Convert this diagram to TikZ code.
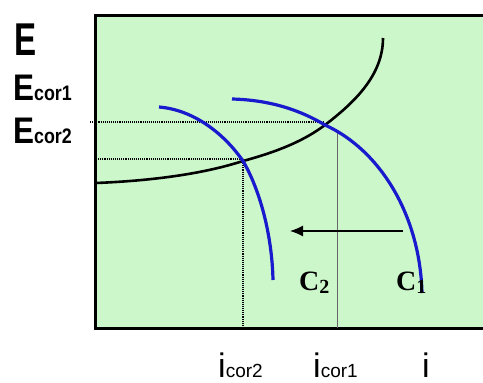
\documentclass[tikz,border=0pt]{standalone}
\usepackage{fontspec}
\setmainfont{Liberation Sans}
\newfontfamily\tms{Liberation Serif}
\usetikzlibrary{arrows.meta}
\definecolor{panelgreen}{RGB}{204,247,202}
\definecolor{curveblue}{RGB}{25,25,205}
\tikzset{
  panel/.style={fill=panelgreen,draw=black,line width=3pt},
  ecurve/.style={black,line width=2.6pt},
  ccurve/.style={curveblue,line width=3.2pt},
  guide/.style={black,line width=1.1pt,densely dotted},
  thinline/.style={black!60,line width=0.7pt},
  shiftarrow/.style={black,line width=1.2pt,-{Latex[length=13pt,width=11pt]}},
  lab/.style={anchor=base west,inner sep=0pt,font=\bfseries\fontsize{37}{40}\selectfont},
  ilab/.style={anchor=base west,inner sep=0pt,font=\fontsize{34}{36}\selectfont},
  clab/.style={anchor=base west,inner sep=0pt,font=\tms\bfseries\fontsize{28}{30}\selectfont}
}
\begin{document}
\begin{tikzpicture}[x=1pt,y=-1pt]
\useasboundingbox (0,0) rectangle (483,383);
\fill[white] (0,0) rectangle (483,383);
\draw[panel] (95,15) rectangle (492,328);
% key points
\coordinate (p1) at (325,125);
\coordinate (p2) at (243,161);
\coordinate (e1) at (90,122);
\coordinate (e2) at (96,159);
\coordinate (p1v) at (337,133);
\coordinate (p1b) at (337,328);
\coordinate (p2b) at (243,328);
\coordinate (e1end) at (325,122);
\coordinate (e2end) at (243,159);
% guides
\draw[guide] (e1) -- (e1end);
\draw[guide] (e2) -- (e2end);
\draw[guide] (p2) -- (p2b);
\draw[thinline] (p1v) -- (p1b);
% E curve
\coordinate (es) at (96,183);
\coordinate (ee) at (383,38);
\draw[ecurve] (es) .. controls (170,180) and (215,170) .. (p2)
  .. controls (280,151) and (305,140) .. (p1)
  .. controls (355,102) and (383,75) .. (ee);
% C2 and C1
\coordinate (c2s) at (159,107);
\coordinate (c2e) at (273,280);
\coordinate (c1s) at (232,99);
\coordinate (c1e) at (422,293);
\draw[ccurve] (c2s) .. controls (195,110) and (225,135) .. (p2)
  .. controls (260,190) and (272,235) .. (c2e);
\draw[ccurve] (c1s) .. controls (270,100) and (300,110) .. (p1)
  .. controls (380,150) and (420,215) .. (c1e);
% arrow
\coordinate (a1) at (403,231);
\coordinate (a2) at (290,231);
\draw[shiftarrow] (a1) -- (a2);
% labels
\node[lab,xscale=0.72,font=\bfseries\fontsize{46}{48}\selectfont] (E) at (14,55) {E};
\node[lab,xscale=0.85] (Ec1) at (13,100) {E\fontsize{21}{22}\selectfont cor1};
\node[lab,xscale=0.85] (Ec2) at (13,143) {E\fontsize{21}{22}\selectfont cor2};
\node[ilab] (ic2) at (218,377) {i\fontsize{19}{20}\selectfont cor2};
\node[ilab] (ic1) at (313,377) {i\fontsize{19}{20}\selectfont cor1};
\node[ilab] (i) at (422,377) {i};
\node[clab] (C2) at (299,290) {C\fontsize{20}{22}\selectfont\raisebox{-3pt}{2}};
\node[clab] (C1) at (396,290) {C\fontsize{20}{22}\selectfont\raisebox{-3pt}{1}};
\end{tikzpicture}
\end{document}
